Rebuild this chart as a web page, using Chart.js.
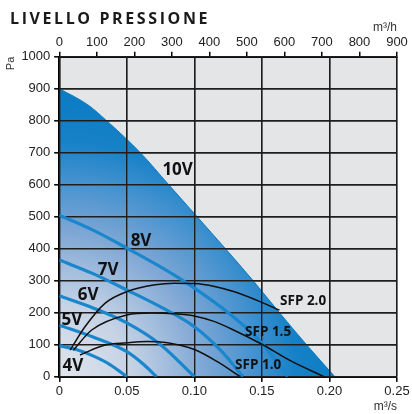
<!DOCTYPE html>
<html>
<head>
<meta charset="utf-8">
<script src="https://cdn.jsdelivr.net/npm/chart.js@4/dist/chart.umd.min.js"></script>
<style>
  body { margin: 0; background: #fff; }
  #wrap { position: relative; width: 412px; height: 414px; }
  #titolo {
    position: absolute; left: 10px; top: 7px;
    font: bold 16px "Open Sans", sans-serif; letter-spacing: 2.6px; color: #1a1a1a;
  }
</style>
</head>
<body>
<div id="wrap">
  <div id="titolo">LIVELLO PRESSIONE</div>
  <canvas id="grafico"></canvas>
</div>
<script>
// ==========================================
// curve ventilatore: portata (m³/s) / pressione (Pa)
// ==========================================

// curve di tensione (x = m³/s, y = Pa)
const curva10V = [[0, 900], [0.021, 850], [0.035, 800], [0.06, 700], [0.081, 600], [0.102, 500], [0.123, 400], [0.1435, 300], [0.163, 200], [0.183, 100], [0.204, 0]];
const curva8V = [[0, 505], [0.025, 458], [0.05, 402], [0.075, 343], [0.1, 277], [0.125, 200], [0.15, 105], [0.169, 0]];
const curva7V = [[0, 365], [0.025, 322], [0.05, 271], [0.075, 218], [0.1, 156], [0.12, 80], [0.136, 0]];
const curva6V = [[0, 253], [0.025, 215], [0.05, 168], [0.075, 100], [0.1, 0]];
const curva5V = [[0, 161], [0.025, 124], [0.05, 78], [0.0625, 38], [0.072, 0]];
const curva4V = [[0, 97], [0.0125, 85], [0.025, 65], [0.0375, 38], [0.05, 0]];

// curve SFP
const sfp20 = [[0.008, 83], [0.019, 156], [0.034, 230], [0.05, 266], [0.071, 287], [0.085, 292], [0.1, 291], [0.115, 282], [0.129, 266], [0.149, 234], [0.163, 208]];
const sfp15 = [[0.0104, 83], [0.024, 146], [0.05, 193], [0.068, 199], [0.085, 197], [0.1, 190], [0.115, 172], [0.129, 146], [0.151, 99], [0.171, 50], [0.196, 0]];
const sfp10 = [[0.0153, 68], [0.034, 99], [0.05, 106], [0.065, 110], [0.08, 106], [0.1, 85], [0.117, 47], [0.134, 0]];

// etichette (posizione in coordinate dati)
const etichetteTensione = [['10V', 0.0876, 646], ['8V', 0.0605, 424], ['7V', 0.0361, 333], ['6V', 0.0213, 255], ['5V', 0.0094, 177], ['4V', 0.0101, 33]];
const etichetteSFP = [['SFP 2.0', 0.1805, 235], ['SFP 1.5', 0.1546, 140], ['SFP 1.0', 0.1472, 37]];

// assi
const tickM3s = [0, 0.05, 0.10, 0.15, 0.20, 0.25];
const tickM3h = [0, 100, 200, 300, 400, 500, 600, 700, 800, 900];
const tickPa = [0, 100, 200, 300, 400, 500, 600, 700, 800, 900, 1000];

const BLU = '#1a86cc';
const FONT_ASSI = { family: '"Liberation Sans", Arial, sans-serif', size: 13 };

const pts = arr => arr.map(p => ({ x: p[0], y: p[1] }));

function sfumatura(context) {
    const chart = context.chart;
    if (!chart.chartArea) return BLU;
    const x0 = chart.scales.x.getPixelForValue(0);
    const y0 = chart.scales.y.getPixelForValue(0);
    const r = y0 - chart.scales.y.getPixelForValue(curva10V[0][1]);
    const g = chart.ctx.createRadialGradient(x0, y0, 0, x0, y0, r);
    g.addColorStop(0, '#e1e5ec');
    g.addColorStop(0.25, '#c6d3e5');
    g.addColorStop(0.5, '#7fa7d5');
    g.addColorStop(0.68, '#4592cf');
    g.addColorStop(0.82, '#1681c7');
    g.addColorStop(1, '#0a7bc4');
    return g;
}

// griglia sopra il riempimento, sotto le curve
const grigliaSopra = {
    id: 'grigliaSopra',
    afterDatasetDraw(chart, args) {
        if (args.index !== 0) return;
        chart.scales.x.drawGrid(chart.chartArea);
        chart.scales.y.drawGrid(chart.chartArea);
    }
};

// testi delle curve
const etichette = {
    id: 'etichette',
    afterDatasetsDraw(chart) {
        const ctx = chart.ctx;
        const sx = chart.scales.x, sy = chart.scales.y;
        ctx.save();
        ctx.textAlign = 'center';
        ctx.textBaseline = 'middle';
        ctx.fillStyle = '#111';
        ctx.font = 'bold 17px "Open Sans", sans-serif';
        etichetteTensione.forEach(e => ctx.fillText(e[0], sx.getPixelForValue(e[1]), sy.getPixelForValue(e[2])));
        ctx.font = 'bold 13.5px "Open Sans", sans-serif';
        etichetteSFP.forEach(e => ctx.fillText(e[0], sx.getPixelForValue(e[1]), sy.getPixelForValue(e[2])));
        ctx.restore();
    }
};

const lineaBlu = (label, arr, ord) => ({
    label, data: pts(arr), borderColor: BLU, borderWidth: 3.2, pointRadius: 0,
    cubicInterpolationMode: 'monotone', fill: false, order: ord
});
const lineaNera = (label, arr) => ({
    label, data: pts(arr), borderColor: '#111', borderWidth: 1.5, pointRadius: 0,
    cubicInterpolationMode: 'monotone', fill: false, order: 1
});

new Chart(document.getElementById('grafico'), {
    type: 'line',
    data: {
        datasets: [
            { label: '10V', data: pts(curva10V), borderColor: '#0a7bc4', borderWidth: 1, backgroundColor: sfumatura,
              fill: 'origin', pointRadius: 0, cubicInterpolationMode: 'monotone', order: 10 },
            lineaBlu('8V', curva8V, 5),
            lineaBlu('7V', curva7V, 5),
            lineaBlu('6V', curva6V, 5),
            lineaBlu('5V', curva5V, 5),
            lineaBlu('4V', curva4V, 5),
            lineaNera('SFP 2.0', sfp20),
            lineaNera('SFP 1.5', sfp15),
            lineaNera('SFP 1.0', sfp10)
        ]
    },
    options: {
        responsive: true,
        maintainAspectRatio: false,
        animation: false,
        layout: { padding: { left: 0, right: 15, top: 0, bottom: 0 } },
        plugins: { legend: { display: false }, tooltip: { enabled: false } },
        scales: {
            x: {
                type: 'linear', position: 'bottom', min: 0, max: 0.25,
                afterBuildTicks: s => { s.ticks = tickM3s.map(v => ({ value: v })); },
                afterFit: s => { s.height = 37.3; },
                ticks: { font: FONT_ASSI, color: '#222', padding: 2, callback: v => v === 0 ? '0' : v.toFixed(2) },
                grid: { color: '#1e1e1e', lineWidth: 1.4, tickLength: 5, tickColor: '#111' },
                border: { display: true, color: '#000', width: 2 },
                title: { display: true, text: 'm³/s', align: 'end', font: { family: FONT_ASSI.family, size: 12 }, color: '#333', padding: { top: 0, bottom: 0 } }
            },
            x2: {
                type: 'linear', position: 'top', min: 0, max: 900,
                afterBuildTicks: s => { s.ticks = tickM3h.map(v => ({ value: v })); },
                afterFit: s => { s.height = 56.7; },
                ticks: { font: FONT_ASSI, color: '#222', padding: 1.5, callback: v => String(v) },
                grid: { drawOnChartArea: false, tickLength: 5, tickColor: '#000', lineWidth: 1.5 },
                border: { display: true, color: '#000', width: 2 },
                title: { display: true, text: 'm³/h', align: 'end', font: { family: FONT_ASSI.family, size: 12 }, color: '#333', padding: { top: 20, bottom: 0 } }
            },
            y: {
                type: 'linear', position: 'left', min: 0, max: 1000,
                afterBuildTicks: s => { s.ticks = tickPa.map(v => ({ value: v })); },
                afterFit: s => { s.width = 59.3; },
                ticks: { font: FONT_ASSI, color: '#222', padding: 4, callback: v => String(v) },
                grid: { color: '#1e1e1e', lineWidth: 1.4, tickLength: 5, tickColor: '#111' },
                border: { display: true, color: '#000', width: 2 },
                title: { display: true, text: 'Pa', align: 'end', font: { family: FONT_ASSI.family, size: 11 }, color: '#333', padding: { top: 4 } }
            }
        }
    },
    plugins: [
        grigliaSopra,
        etichette,
        {
            id: 'sfondo',
            beforeDraw(chart) {
                const { ctx, chartArea: a } = chart;
                ctx.save();
                ctx.fillStyle = '#e4e5e7';
                ctx.fillRect(a.left, a.top, a.right - a.left, a.bottom - a.top);
                ctx.restore();
            }
        }
    ]
});
</script>
</body>
</html>
